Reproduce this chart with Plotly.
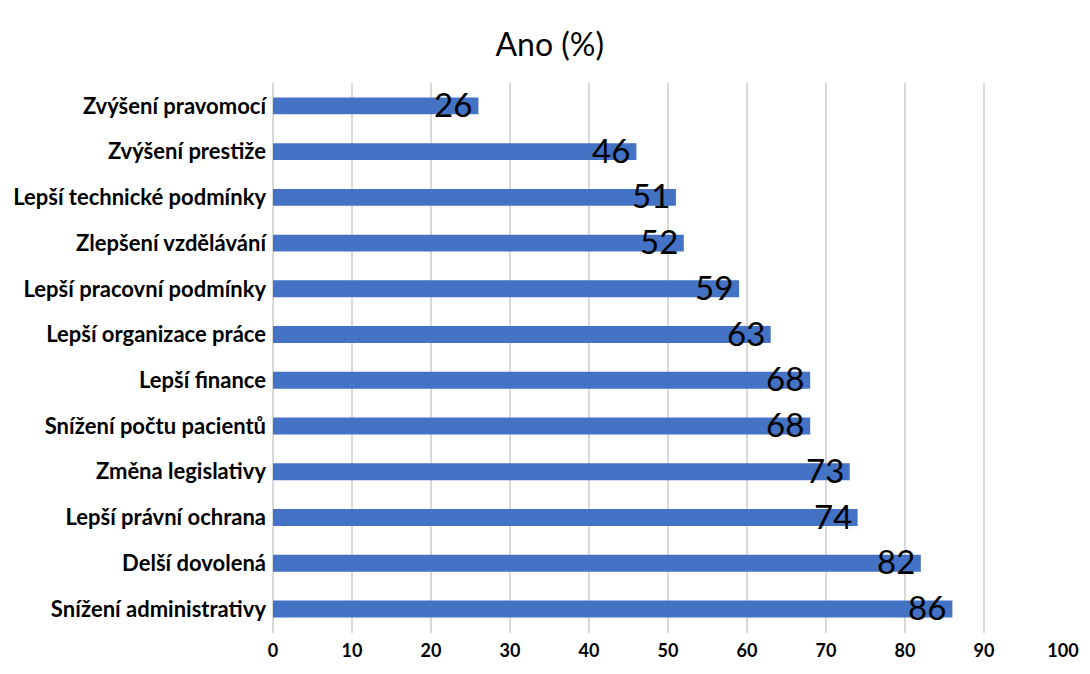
import plotly.graph_objects as go

categories = ["Zvýšení pravomocí", "Zvýšení prestiže", "Lepší technické podmínky",
              "Zlepšení vzdělávání", "Lepší pracovní podmínky", "Lepší organizace práce",
              "Lepší finance", "Snížení počtu pacientů", "Změna legislativy",
              "Lepší právní ochrana", "Delší dovolená", "Snížení administrativy"]
values = [26, 46, 51, 52, 59, 63, 68, 68, 73, 74, 82, 86]
x_ticks = [0, 10, 20, 30, 40, 50, 60, 70, 80, 90, 100]
title_text = "Ano (%)"

fig = go.Figure()
fig.add_trace(go.Bar(
    y=categories, x=values, orientation="h",
    marker=dict(color="#4472C4", line=dict(width=0)),
    width=0.37,
    hoverinfo="skip",
))

for cat, v in zip(categories, values):
    fig.add_annotation(x=v, y=cat, xref="x", yref="y", text=str(v),
                       showarrow=False, xanchor="right", yanchor="middle",
                       xshift=-4, yshift=2,
                       font=dict(family="Lato, sans-serif", size=33, color="black"))

fig.update_layout(
    width=1090, height=674,
    paper_bgcolor="white", plot_bgcolor="white",
    margin=dict(l=265, r=35, t=75, b=49, autoexpand=False),
    title=dict(text=title_text, x=0.497, xanchor="center", y=0.945, yanchor="middle",
               font=dict(family="Lato, sans-serif", size=32, color="black")),
    showlegend=False,
)
fig.update_xaxes(range=[0, 100], tickvals=x_ticks, ticktext=[str(t) for t in x_ticks],
                 showgrid=True, gridcolor="#d9d9d9", gridwidth=1.5,
                 zeroline=True, zerolinecolor="#d9d9d9", zerolinewidth=1.5,
                 showline=False, ticks="", automargin=False, ticklabelstandoff=5,
                 tickfont=dict(family="Lato, sans-serif", size=18, color="black", weight="bold"))
fig.update_yaxes(categoryorder="array", categoryarray=categories, autorange="reversed",
                 showgrid=False, ticks="", ticklabelstandoff=6, automargin=False,
                 tickfont=dict(family="Lato, sans-serif", size=22, color="black", weight="bold"))

fig.write_html("out.html")
